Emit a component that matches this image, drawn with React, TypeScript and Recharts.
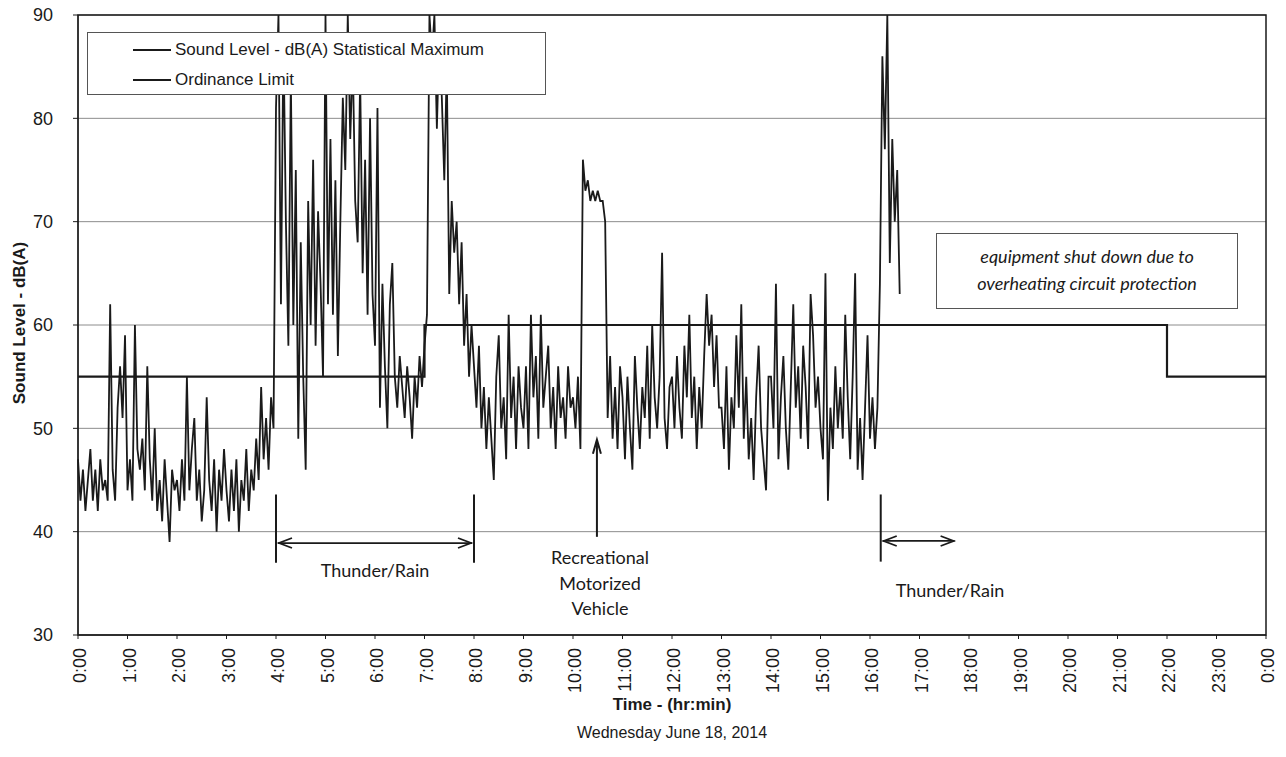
import { CartesianGrid, Legend, Line, LineChart, ReferenceArea, ReferenceLine, XAxis, YAxis } from 'recharts';

// sound level readings, one every 3 minutes, 0:00 to 16:36
const STEP_MIN = 3;
const hour00 = [47, 43, 46, 42, 45, 48, 43, 46, 42, 47, 44, 45, 43, 62, 46, 43, 52, 56, 51, 59];
const hour01 = [44, 47, 43, 60, 48, 46, 49, 44, 56, 47, 43, 50, 42, 45, 41, 47, 43, 39, 46, 44];
const hour02 = [45, 42, 47, 43, 55, 44, 48, 51, 43, 46, 41, 44, 53, 45, 42, 47, 40, 46, 43, 48];
const hour03 = [44, 41, 46, 42, 47, 40, 45, 43, 48, 42, 46, 44, 49, 45, 54, 47, 51, 46, 53, 50];
const hour04 = [81, 90, 62, 88, 70, 58, 84, 60, 75, 49, 68, 55, 46, 72, 60, 76, 58, 71, 64, 55];
const hour05 = [90, 62, 78, 61, 74, 57, 70, 82, 75, 90, 78, 86, 72, 68, 84, 65, 76, 61, 80, 63];
const hour06 = [58, 81, 52, 64, 56, 50, 62, 66, 55, 52, 57, 54, 51, 56, 53, 49, 55, 52, 57, 54];
const hour07 = [58, 61, 90, 86, 90, 79, 88, 82, 74, 85, 63, 72, 67, 70, 62, 68, 58, 63, 55, 60];
const hour08 = [56, 52, 58, 50, 54, 48, 53, 49, 45, 55, 59, 50, 53, 47, 61, 51, 55, 48, 56, 52];
const hour09 = [50, 56, 48, 61, 53, 57, 49, 61, 52, 55, 58, 50, 54, 48, 56, 51, 53, 49, 56, 52];
const hour10 = [53, 50, 55, 48, 76, 73, 74, 72, 73, 72, 73, 72, 72, 70, 51, 57, 49, 54, 48, 56];
const hour11 = [53, 47, 55, 50, 46, 57, 52, 48, 54, 51, 58, 49, 60, 53, 50, 55, 67, 51, 48, 54];
const hour12 = [55, 50, 57, 52, 49, 58, 53, 61, 51, 55, 48, 54, 50, 57, 63, 58, 61, 54, 59, 52];
const hour13 = [52, 48, 56, 46, 53, 50, 59, 52, 62, 49, 55, 47, 51, 45, 53, 58, 50, 47, 44, 55];
const hour14 = [55, 50, 64, 47, 53, 57, 50, 46, 54, 62, 52, 56, 49, 58, 54, 48, 63, 59, 52, 55];
const hour15 = [50, 47, 65, 43, 52, 48, 56, 50, 54, 49, 61, 53, 47, 55, 65, 46, 51, 45, 52, 59];
const hour16 = [49, 53, 48, 52, 64, 86, 77, 90, 66, 78, 70, 75, 63];

const soundLevels = [
  ...hour00, ...hour01, ...hour02, ...hour03, ...hour04, ...hour05, ...hour06, ...hour07, ...hour08,
  ...hour09, ...hour10, ...hour11, ...hour12, ...hour13, ...hour14, ...hour15, ...hour16,
];
const soundData = soundLevels.map((v, i) => ({ t: i * STEP_MIN, v }));

// ordinance limit steps (minutes of day)
const limitTimes = [0, 420, 1320, 1440];
const limitValues = [55, 60, 55, 55];
const limitData = limitTimes.map((t, i) => ({ t, v: limitValues[i] }));

const SOUND_NAME = 'Sound Level - dB(A) Statistical Maximum';
const LIMIT_NAME = 'Ordinance Limit';
const legendOrder = [SOUND_NAME, LIMIT_NAME];

const hourTicks = Array.from({ length: 25 }, (_, i) => i * 60);
const yTicks = [30, 40, 50, 60, 70, 80, 90];

// annotations (minutes, dB)
const rain1 = { start: 240, end: 480, barTop: 43.6, barBottom: 37, arrowY: 38.9 };
const rain2 = { start: 973, end: 1065, barTop: 43.6, barBottom: 37.1, arrowY: 39.1 };
const vehicle = { t: 629, from: 39.5, to: 48.9 };

const ink = '#1a1a1a';
const arial = '"Liberation Sans", Arial, sans-serif';
const calibri = 'Lato, "Open Sans", sans-serif';

const fmtHour = (t: number) => `${Math.round(t / 60) % 24}:00`;

function HourTick({ x, y, payload }: any) {
  return (
    <text
      transform={`translate(${x + 8},${y + 7}) rotate(-90)`}
      textAnchor="end"
      fontSize={18}
      fontFamily={arial}
      fill={ink}
    >
      {fmtHour(payload.value)}
    </text>
  );
}

function DoubleArrow({ x1, y1, x2, y2 }: any) {
  const y = (y1 + y2) / 2;
  return (
    <g stroke={ink} strokeWidth={1.8} fill="none">
      <line x1={x1 + 2} y1={y} x2={x2 - 2} y2={y} />
      <path d={`M${x1 + 16},${y - 5} L${x1 + 3},${y} L${x1 + 16},${y + 5}`} />
      <path d={`M${x2 - 16},${y - 5} L${x2 - 3},${y} L${x2 - 16},${y + 5}`} />
    </g>
  );
}

function UpArrow({ x1, y1, x2, y2 }: any) {
  const top = Math.min(y1, y2);
  const bottom = Math.max(y1, y2);
  return (
    <g stroke={ink} strokeWidth={2} fill="none">
      <line x1={x1} y1={bottom} x2={x2} y2={top + 1} />
      <path d={`M${x1 - 4},${top + 14} L${x1},${top} L${x1 + 4},${top + 14}`} />
    </g>
  );
}

function LegendBox({ payload }: any) {
  const items = [...(payload || [])].sort(
    (a: any, b: any) => legendOrder.indexOf(a.value) - legendOrder.indexOf(b.value),
  );
  return (
    <div
      style={{
        width: 459,
        height: 63,
        boxSizing: 'border-box',
        border: '1px solid #555',
        background: '#fff',
        fontFamily: arial,
        fontSize: 17,
        color: ink,
        paddingTop: 2,
      }}
    >
      {items.map((p: any) => (
        <div key={p.value} style={{ display: 'flex', alignItems: 'center', height: 30 }}>
          <div style={{ marginLeft: 45, width: 38, borderTop: `2px solid ${ink}` }} />
          <span style={{ marginLeft: 4 }}>{p.value}</span>
        </div>
      ))}
    </div>
  );
}

const overlay: React.CSSProperties = {
  position: 'absolute',
  transform: 'translate(-50%, -50%)',
  whiteSpace: 'nowrap',
  color: ink,
  textAlign: 'center',
};

export default function App() {
  return (
    <div style={{ position: 'absolute', left: 0, top: 0, width: 1286, height: 757, background: '#fff' }}>
      <LineChart width={1286} height={757} margin={{ top: 15, right: 20, left: 0, bottom: 60 }}>
        <CartesianGrid vertical={false} stroke="#8c8c8c" strokeWidth={1} />
        <XAxis
          type="number"
          dataKey="t"
          domain={[0, 1440]}
          ticks={hourTicks}
          interval={0}
          tick={<HourTick />}
          tickSize={4}
          height={62}
          stroke={ink}
        />
        <YAxis
          domain={[30, 90]}
          ticks={yTicks}
          allowDataOverflow
          width={78}
          tickSize={5}
          tickMargin={20}
          stroke={ink}
          tick={{ fontSize: 18, fontFamily: arial, fill: ink }}
        />
        <ReferenceArea x1={0} x2={1440} y1={30} y2={90} fill="none" stroke={ink} strokeWidth={1.5} />
        <Legend
          layout="horizontal"
          verticalAlign="middle"
          align="center"
          content={<LegendBox />}
          wrapperStyle={{ left: 87, top: 32, width: 459, height: 63 }}
        />
        <Line
          data={limitData}
          dataKey="v"
          name={LIMIT_NAME}
          type="stepAfter"
          stroke={ink}
          strokeWidth={2.2}
          dot={false}
          isAnimationActive={false}
        />
        <Line
          data={soundData}
          dataKey="v"
          name={SOUND_NAME}
          type="linear"
          stroke={ink}
          strokeWidth={1.8}
          dot={false}
          isAnimationActive={false}
        />
        <ReferenceLine segment={[{ x: rain1.start, y: rain1.barTop }, { x: rain1.start, y: rain1.barBottom }]} stroke={ink} strokeWidth={2} />
        <ReferenceLine segment={[{ x: rain1.end, y: rain1.barTop }, { x: rain1.end, y: rain1.barBottom }]} stroke={ink} strokeWidth={2} />
        <ReferenceLine segment={[{ x: rain1.start, y: rain1.arrowY }, { x: rain1.end, y: rain1.arrowY }]} shape={DoubleArrow} />
        <ReferenceLine segment={[{ x: rain2.start, y: rain2.barTop }, { x: rain2.start, y: rain2.barBottom }]} stroke={ink} strokeWidth={2} />
        <ReferenceLine segment={[{ x: rain2.start, y: rain2.arrowY }, { x: rain2.end, y: rain2.arrowY }]} shape={DoubleArrow} />
        <ReferenceLine segment={[{ x: vehicle.t, y: vehicle.from }, { x: vehicle.t, y: vehicle.to }]} shape={UpArrow} />
      </LineChart>

      <div style={{ ...overlay, left: 375, top: 570, fontFamily: calibri, fontSize: 18 }}>Thunder/Rain</div>
      <div style={{ ...overlay, left: 600, top: 583, fontFamily: calibri, fontSize: 18, lineHeight: '25.5px' }}>
        Recreational
        <br />
        Motorized
        <br />
        Vehicle
      </div>
      <div style={{ ...overlay, left: 950, top: 590, fontFamily: calibri, fontSize: 18 }}>Thunder/Rain</div>
      <div
        style={{
          position: 'absolute',
          left: 936,
          top: 233,
          width: 302,
          height: 76,
          boxSizing: 'border-box',
          border: '1px solid #555',
          background: '#fff',
          fontFamily: calibri,
          fontStyle: 'italic',
          fontSize: 18,
          lineHeight: '27px',
          color: ink,
          textAlign: 'center',
          paddingTop: 9,
        }}
      >
        equipment shut down due to
        <br />
        overheating circuit protection
      </div>
      <div
        style={{
          ...overlay,
          left: 20,
          top: 323,
          transform: 'translate(-50%, -50%) rotate(-90deg)',
          fontFamily: arial,
          fontWeight: 'bold',
          fontSize: 17,
        }}
      >
        Sound Level - dB(A)
      </div>
      <div style={{ ...overlay, left: 672, top: 705, fontFamily: arial, fontWeight: 'bold', fontSize: 17 }}>
        Time - (hr:min)
      </div>
      <div style={{ ...overlay, left: 672, top: 733, fontFamily: arial, fontSize: 16 }}>Wednesday June 18, 2014</div>
    </div>
  );
}
